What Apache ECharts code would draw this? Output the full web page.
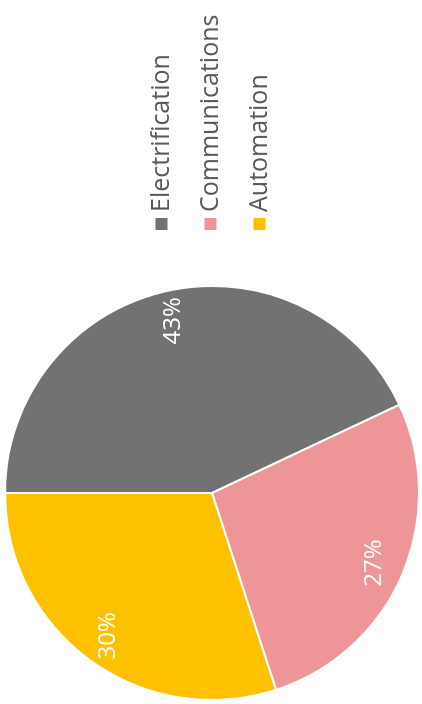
<!DOCTYPE html>
<html>
<head>
<meta charset="utf-8">
<script src="https://cdn.jsdelivr.net/npm/echarts@6/dist/echarts.min.js"></script>
<style>
  html, body { margin: 0; padding: 0; background: #fff; overflow: hidden; }
  #wrap { width: 422px; height: 704px; position: relative; overflow: hidden; }
  /* chart is drawn landscape, then turned a quarter turn to the left */
  #chart {
    position: absolute; left: 0; top: 0;
    width: 704px; height: 422px;
    transform-origin: 0 0;
    transform: translate(0, 704px) rotate(-90deg);
  }
</style>
</head>
<body>
<div id="wrap"><div id="chart"></div></div>
<script>
const categories = ['Electrification', 'Communications', 'Automation'];
const values = [43, 27, 30];
const colors = ['#727272', '#ED9597', '#FFC000'];

const pieData = categories.map((name, i) => ({ name: name, value: values[i] }));

const myChart = echarts.init(document.getElementById('chart'));
myChart.setOption({
  animation: false,
  color: colors,
  legend: {
    orient: 'vertical',
    left: 472,
    top: 148,
    padding: 0,
    itemWidth: 14,
    itemHeight: 14,
    itemGap: 22,
    icon: 'rect',
    data: categories,
    textStyle: {
      color: '#595959',
      fontSize: 25,
      fontFamily: 'Open Sans',
      lineHeight: 27
    }
  },
  series: [
    {
      type: 'pie',
      center: [211, 212],
      radius: [0, 207],
      startAngle: 90,
      clockwise: true,
      silent: true,
      itemStyle: { borderColor: '#fff', borderWidth: 2 },
      label: { show: false },
      labelLine: { show: false },
      data: pieData
    },
    {
      // invisible ring, only carries the percent labels
      type: 'pie',
      center: [211, 212],
      radius: [140, 207],
      startAngle: 90,
      clockwise: true,
      silent: true,
      itemStyle: { color: 'rgba(0,0,0,0)' },
      label: {
        show: true,
        position: 'inside',
        formatter: '{c}%',
        color: '#fff',
        fontSize: 24,
        fontFamily: 'Open Sans'
      },
      labelLine: { show: false },
      data: pieData
    }
  ]
});
</script>
</body>
</html>
